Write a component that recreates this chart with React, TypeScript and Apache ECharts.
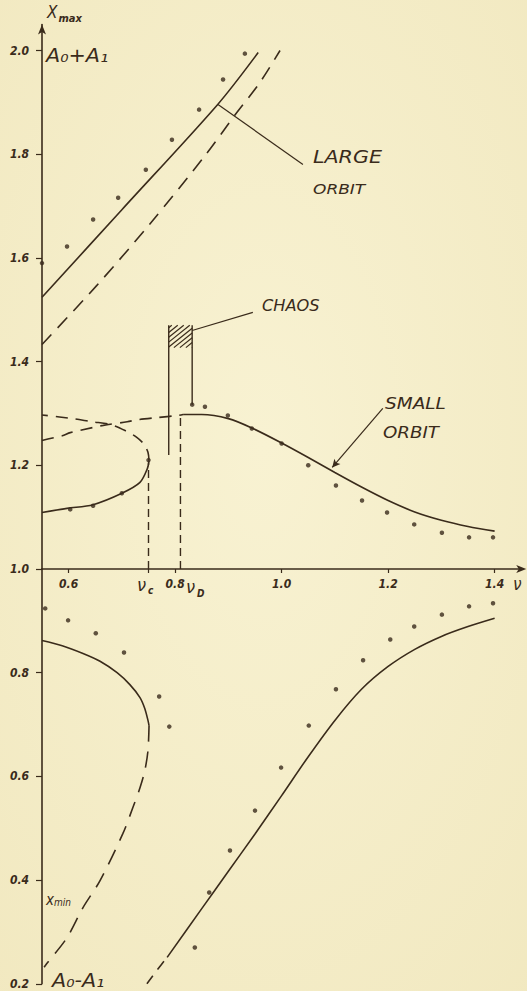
import React, { useEffect, useRef } from "react";
import * as echarts from "echarts";

// Response diagram: X_max (upper half) and X_min (lower half) against the forcing frequency ν.
const INK = "#3a2b1b";
const PAPER = "#f5eec9";
const FONT = "'DejaVu Sans Condensed', 'DejaVu Sans', sans-serif";

// axis ticks
const nuTicks = [0.6, 0.8, 1.0, 1.2, 1.4];
const nuTickMarks = [0.6, 0.75, 0.8, 1.0, 1.2, 1.4];
const xmaxTicks = [1.0, 1.2, 1.4, 1.6, 1.8, 2.0];
const xminTicks = [0.2, 0.4, 0.6, 0.8];

// large orbit, maximum
const largeMaxStable = [[0.55, 1.524], [0.7, 1.693], [0.88, 1.896], [0.956, 1.996]];
const largeMaxUnstable = [[0.55, 1.433], [0.653, 1.547], [0.753, 1.666], [0.856, 1.797], [0.912, 1.875], [0.959, 1.938], [0.997, 2.0]];
const largeMaxPoints = [[0.55, 1.59], [0.597, 1.622], [0.646, 1.674], [0.693, 1.716], [0.745, 1.77], [0.794, 1.828], [0.845, 1.886], [0.89, 1.944], [0.931, 1.994]];

// small orbit, maximum
const smallMaxLeftStable = [[0.55, 1.109], [0.597, 1.117], [0.646, 1.124], [0.7, 1.146], [0.734, 1.167], [0.748, 1.194], [0.751, 1.209]];
const smallMaxLeftUnstable = [[0.751, 1.209], [0.749, 1.225], [0.742, 1.24], [0.728, 1.254], [0.706, 1.267], [0.678, 1.279], [0.644, 1.284], [0.608, 1.29], [0.55, 1.297]];
const smallMaxBridge = [[0.55, 1.248], [0.588, 1.257], [0.603, 1.263], [0.646, 1.273], [0.665, 1.277], [0.71, 1.284], [0.73, 1.288], [0.766, 1.292], [0.804, 1.296], [0.815, 1.298]];
const smallMaxRightStable = [[0.815, 1.298], [0.85, 1.298], [0.9, 1.29], [0.944, 1.272], [1.0, 1.243], [1.05, 1.215], [1.1, 1.186], [1.15, 1.158], [1.2, 1.132], [1.25, 1.11], [1.3, 1.094], [1.35, 1.082], [1.4, 1.073]];
const smallMaxPoints = [[0.603, 1.115], [0.646, 1.122], [0.7, 1.146], [0.75, 1.21], [0.832, 1.317], [0.856, 1.313], [0.899, 1.296], [0.944, 1.271], [1.0, 1.242], [1.05, 1.2], [1.102, 1.161], [1.151, 1.132], [1.198, 1.109], [1.249, 1.086], [1.301, 1.07], [1.352, 1.061], [1.397, 1.061]];

// chaotic window and the two critical frequencies
const chaosLeft = [[0.788, 1.22], [0.788, 1.47]];
const chaosRight = [[0.832, 1.317], [0.832, 1.47]];
const chaosBand = [[0.788, 1.427, 0.832, 1.47]];
const nuC = [[0.75, 1.0], [0.75, 1.205]];
const nuD = [[0.81, 1.0], [0.81, 1.296]];

// large orbit, minimum
const largeMinStable = [[0.55, 0.862], [0.588, 0.852], [0.627, 0.837], [0.659, 0.822], [0.691, 0.8], [0.715, 0.777], [0.734, 0.752], [0.743, 0.731], [0.749, 0.708], [0.751, 0.698]];
const largeMinUnstable = [[0.751, 0.698], [0.749, 0.65], [0.743, 0.611], [0.734, 0.578], [0.721, 0.541], [0.702, 0.49], [0.659, 0.399], [0.627, 0.347], [0.597, 0.289], [0.559, 0.239], [0.554, 0.232]];
const largeMinPoints = [[0.556, 0.924], [0.599, 0.901], [0.651, 0.876], [0.704, 0.839], [0.77, 0.754], [0.789, 0.696]];

// small orbit, minimum
const smallMinUnstable = [[0.747, 0.2], [0.765, 0.225], [0.785, 0.251]];
const smallMinStable = [[0.785, 0.251], [0.85, 0.345], [0.9, 0.417], [0.95, 0.489], [1.0, 0.563], [1.05, 0.638], [1.1, 0.708], [1.15, 0.768], [1.2, 0.812], [1.25, 0.845], [1.3, 0.87], [1.35, 0.889], [1.4, 0.905]];
const smallMinPoints = [[0.837, 0.27], [0.864, 0.376], [0.903, 0.457], [0.95, 0.534], [0.999, 0.617], [1.051, 0.698], [1.102, 0.768], [1.153, 0.824], [1.204, 0.864], [1.249, 0.889], [1.301, 0.912], [1.352, 0.928], [1.397, 0.934]];

// leader lines for the annotations
const largeLeader = [[0.8805, 1.896], [1.04, 1.78]];
const chaosLeader = [[0.832, 1.46], [0.946, 1.495]];
const smallLeaderFrom = [1.19, 1.31];
const smallLeaderTo = [1.095, 1.196];

function curve(data: number[][], grid: number, dash?: number[], width = 1.6) {
  return {
    type: "line",
    xAxisIndex: grid,
    yAxisIndex: grid,
    data,
    smooth: 0.3,
    showSymbol: false,
    symbol: "none",
    silent: true,
    lineStyle: { color: INK, width, type: dash ? dash : "solid" },
    z: 3,
  };
}

function straight(data: number[][], grid: number, dash?: number[], width = 1.4) {
  return { ...curve(data, grid, dash, width), smooth: false };
}

function dots(data: number[][], grid: number) {
  return {
    type: "scatter",
    xAxisIndex: grid,
    yAxisIndex: grid,
    data,
    symbol: "circle",
    symbolSize: 4.5,
    silent: true,
    itemStyle: { color: INK },
    z: 4,
  };
}

function label(text: string, left: number, top: number, size: number, extra: any = {}) {
  return {
    type: "text",
    left,
    top,
    silent: true,
    style: {
      text,
      fill: INK,
      font: `italic ${extra.weight || "normal"} ${size}px ${FONT}`,
    },
    scaleX: extra.scaleX || 1,
    z: 10,
  };
}

export default function App() {
  const ref = useRef<HTMLDivElement>(null);

  useEffect(() => {
    if (!ref.current) return;
    const chart = echarts.init(ref.current, null, { renderer: "svg" });

    const tickLabel = {
      color: INK,
      fontFamily: FONT,
      fontStyle: "italic",
      fontWeight: "bold",
      fontSize: 12,
      hideOverlap: false,
      formatter: (v: number) => v.toFixed(1),
    };

    chart.setOption({
      animation: false,
      backgroundColor: {
        type: "radial",
        x: 0.5,
        y: 0.45,
        r: 0.8,
        colorStops: [
          { offset: 0, color: "#f8f2d2" },
          { offset: 1, color: "#f1e8bf" },
        ],
      },
      grid: [
        { left: 42, top: 24.6, width: 479.25, height: 544.4 },
        { left: 42, top: 569, width: 479.25, height: 414.8 },
      ],
      xAxis: [
        {
          type: "value",
          gridIndex: 0,
          min: 0.55,
          max: 1.45,
          position: "bottom",
          splitLine: { show: false },
          axisLine: {
            show: true,
            lineStyle: { color: INK, width: 1.6 },
            symbol: ["none", "arrow"],
            symbolSize: [6, 10],
            symbolOffset: [0, 5],
          },
          axisTick: { show: true, length: 4, customValues: nuTickMarks, lineStyle: { color: INK, width: 1.2 } },
          axisLabel: { ...tickLabel, margin: 9, customValues: nuTicks },
        },
        {
          type: "value",
          gridIndex: 1,
          min: 0.55,
          max: 1.45,
          show: false,
        },
      ],
      yAxis: [
        {
          type: "value",
          gridIndex: 0,
          min: 1.0,
          max: 2.05,
          splitLine: { show: false },
          axisLine: {
            show: true,
            lineStyle: { color: INK, width: 1.6 },
            symbol: ["none", "arrow"],
            symbolSize: [6, 10],
          },
          axisTick: { show: true, length: 6, customValues: xmaxTicks, lineStyle: { color: INK, width: 1.2 } },
          axisLabel: { ...tickLabel, margin: 13, customValues: xmaxTicks },
        },
        {
          type: "value",
          gridIndex: 1,
          min: 0.2,
          max: 1.0,
          splitLine: { show: false },
          axisLine: { show: true, lineStyle: { color: INK, width: 1.6 } },
          axisTick: { show: true, length: 6, customValues: xminTicks, lineStyle: { color: INK, width: 1.2 } },
          axisLabel: { ...tickLabel, margin: 13, customValues: xminTicks },
        },
      ],
      series: [
        // upper half: maxima
        curve(largeMaxStable, 0),
        curve(largeMaxUnstable, 0, [14, 9]),
        dots(largeMaxPoints, 0),
        curve(smallMaxLeftStable, 0),
        curve(smallMaxLeftUnstable, 0, [12, 8]),
        curve(smallMaxBridge, 0, [12, 8]),
        curve(smallMaxRightStable, 0),
        dots(smallMaxPoints, 0),
        straight(chaosLeft, 0),
        straight(chaosRight, 0),
        straight(nuC, 0, [8, 5]),
        straight(nuD, 0, [8, 5]),
        {
          type: "custom",
          xAxisIndex: 0,
          yAxisIndex: 0,
          data: chaosBand,
          encode: { x: [0, 2], y: [1, 3] },
          silent: true,
          z: 3,
          renderItem: (_params: any, api: any) => {
            const a = api.coord([api.value(0), api.value(1)]);
            const b = api.coord([api.value(2), api.value(3)]);
            const x0 = Math.min(a[0], b[0]);
            const x1 = Math.max(a[0], b[0]);
            const yt = Math.min(a[1], b[1]);
            const yb = Math.max(a[1], b[1]);
            const s = 0.8;
            const h = yb - yt;
            const children: any[] = [];
            for (let xs = x0 - h / s + 3; xs < x1; xs += 6) {
              let sx = xs;
              let sy = yb;
              if (sx < x0) {
                sy = yb - s * (x0 - xs);
                sx = x0;
              }
              let ex = xs + h / s;
              let ey = yt;
              if (ex > x1) {
                ey = yb - s * (x1 - xs);
                ex = x1;
              }
              if (sy <= yt || ex <= sx) continue;
              children.push({
                type: "line",
                shape: { x1: sx, y1: sy, x2: ex, y2: ey },
                style: { stroke: INK, lineWidth: 1.2 },
              });
            }
            return { type: "group", children };
          },
        },
        straight(largeLeader, 0, undefined, 1.2),
        straight(chaosLeader, 0, undefined, 1.2),
        {
          type: "line",
          xAxisIndex: 0,
          yAxisIndex: 0,
          data: [],
          silent: true,
          markLine: {
            silent: true,
            symbol: ["none", "arrow"],
            symbolSize: [6, 8],
            label: { show: false },
            lineStyle: { color: INK, width: 1.2, type: "solid" },
            data: [[{ coord: smallLeaderFrom }, { coord: smallLeaderTo }]],
          },
        },
        // lower half: minima
        curve(largeMinStable, 1),
        curve(largeMinUnstable, 1, [16, 10]),
        dots(largeMinPoints, 1),
        curve(smallMinUnstable, 1, [10, 8]),
        curve(smallMinStable, 1),
        dots(smallMinPoints, 1),
      ],
      graphic: [
        {
          type: "text",
          left: 47,
          top: 3,
          silent: true,
          style: {
            text: "{a|X}{b|max}",
            fill: INK,
            rich: {
              a: { fontSize: 17, fontFamily: FONT, fontStyle: "italic", fill: INK, verticalAlign: "top" },
              b: { fontSize: 11, fontFamily: FONT, fontStyle: "italic", fontWeight: "bold", fill: INK, padding: [10, 0, 0, 1] },
            },
          },
        },
        label("A₀+A₁", 46, 45, 20, { scaleX: 1.15 }),
        label("LARGE", 313, 149, 17, { scaleX: 1.35 }),
        label("ORBIT", 313, 182, 14, { scaleX: 1.35 }),
        label("CHAOS", 262, 299, 15, { scaleX: 1.2 }),
        label("SMALL", 385, 396, 15, { scaleX: 1.37 }),
        label("ORBIT", 383, 425, 15, { scaleX: 1.35 }),
        label("ν", 137, 575, 18),
        label("c", 148, 585, 10, { weight: "bold" }),
        label("ν", 186, 577, 18),
        label("D", 197, 588, 10, { weight: "bold" }),
        label("ν", 513, 575, 17),
        {
          type: "text",
          left: 46,
          top: 892,
          silent: true,
          style: {
            text: "{a|x}{b|min}",
            fill: INK,
            rich: {
              a: { fontSize: 15, fontFamily: FONT, fontStyle: "italic", fill: INK },
              b: { fontSize: 10, fontFamily: FONT, fontStyle: "italic", fill: INK, padding: [6, 0, 0, 0] },
            },
          },
        },
        label("A₀-A₁", 52, 970, 20, { scaleX: 1.15 }),
      ],
    });

    return () => chart.dispose();
  }, []);

  return (
    <div
      ref={ref}
      style={{ position: "fixed", left: 0, top: 0, width: 527, height: 991, background: PAPER }}
    />
  );
}
